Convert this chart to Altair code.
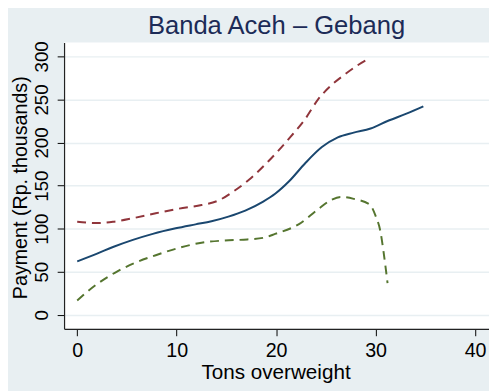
import altair as alt
import pandas as pd

# Fitted line (solid navy)
fit_x = [0, 2, 3.6, 5.6, 7.6, 9.9, 11.9, 13.5, 15.2, 16.9, 18.7, 19.9, 21.3, 22.9, 24.6, 26.2, 27.8, 29.5, 31.2, 33.1, 34.8]
fit_y = [62, 71, 78.7, 87, 94, 100.4, 105, 108.6, 114, 121, 131.5, 140.5, 155, 175.7, 194.7, 206, 211.5, 216.3, 225, 233.5, 242]

# Upper bound (dashed maroon)
up_x = [0, 2, 3.6, 5.6, 7.9, 10.2, 12.5, 14.2, 15.8, 17.3, 19.2, 21.4, 22.9, 24.2, 25.6, 26.9, 28.2, 29.2]
up_y = [108, 106.5, 108, 112.2, 117.9, 123.2, 127.4, 132.7, 144, 157, 178, 206, 227, 249.8, 267, 279, 289.7, 296.6]

# Lower bound (dashed green)
lo_x = [0, 2, 4, 5.9, 7.9, 10.2, 12.5, 14.8, 17.1, 18.8, 19.9, 22.3, 24.2, 25.6, 26.5, 27.8, 29.4, 30.0, 30.5, 30.8, 31.2]
lo_y = [16.7, 35.7, 50.2, 60.8, 69.2, 77.6, 83.7, 86.3, 87.5, 89.6, 93.9, 105.3, 122.4, 133.8, 136.9, 134.6, 128.1, 114.8, 95.8, 73, 36.9]

x_ticks = [0, 10, 20, 30, 40]
y_ticks = [0, 50, 100, 150, 200, 250, 300]
title_text = "Banda Aceh – Gebang"

fit = pd.DataFrame({"x": fit_x, "y": fit_y})
up = pd.DataFrame({"x": up_x, "y": up_y})
lo = pd.DataFrame({"x": lo_x, "y": lo_y})

FONT = "Liberation Sans"

xs = alt.Scale(domain=[-1.32, 41.4], nice=False, zero=False)
ys = alt.Scale(domain=[-16.3, 316], nice=False, zero=False)

x_axis = alt.Axis(
    title="Tons overweight", values=x_ticks, grid=False,
    labelFontSize=20, labelFont=FONT, labelColor="black",
    labelBaseline="alphabetic", labelPadding=21, labelFlush=False,
    tickSize=7, tickColor="black", domainColor="#222222", domainWidth=1.2,
    titleFontSize=21, titleFont=FONT, titleFontWeight="normal", titleColor="black",
    titleX=215, titleY=50, titleBaseline="alphabetic", titleAlign="center",
)
y_axis = alt.Axis(
    title="Payment (Rp. thousands)", values=y_ticks, grid=True,
    gridColor="#E8EFF2", gridWidth=1.5,
    labelFontSize=19, labelFont=FONT, labelColor="black",
    labelAngle=270, labelAlign="center", labelBaseline="alphabetic",
    labelPadding=10, labelFlush=False,
    tickSize=7, tickColor="black", domainColor="#222222", domainWidth=1.2,
    titleFontSize=20, titleFont=FONT, titleFontWeight="normal", titleColor="black",
    titleAngle=270, titleX=-38.5, titleY=147, titleAlign="center", titleBaseline="alphabetic",
)

def line(df, color, dash=None):
    kw = dict(color=color, strokeWidth=2, interpolate="monotone", clip=True)
    if dash:
        kw["strokeDash"] = dash
    return alt.Chart(df).mark_line(**kw).encode(
        x=alt.X("x:Q", scale=xs, axis=x_axis),
        y=alt.Y("y:Q", scale=ys, axis=y_axis),
    )

title_mark = alt.Chart(pd.DataFrame({"t": [title_text]})).mark_text(
    fontSize=26, font=FONT, color="#1C2B57", align="center", baseline="alphabetic"
).encode(x=alt.value(216), y=alt.value(-8.5), text="t:N")

chart = alt.layer(
    line(up, "#90353B", [9, 6]),
    line(lo, "#55752F", [9, 6]),
    line(fit, "#1A476F"),
    title_mark,
).properties(
    width=432, height=291,
    autosize=alt.AutoSizeParams(type="none"),
    padding={"left": 57, "top": 32, "right": 0, "bottom": 60},
    background="#E8EFF2",
).configure_view(fill="white", stroke=None)

chart.save("out.html", embed_options={"renderer": "svg", "actions": False})
